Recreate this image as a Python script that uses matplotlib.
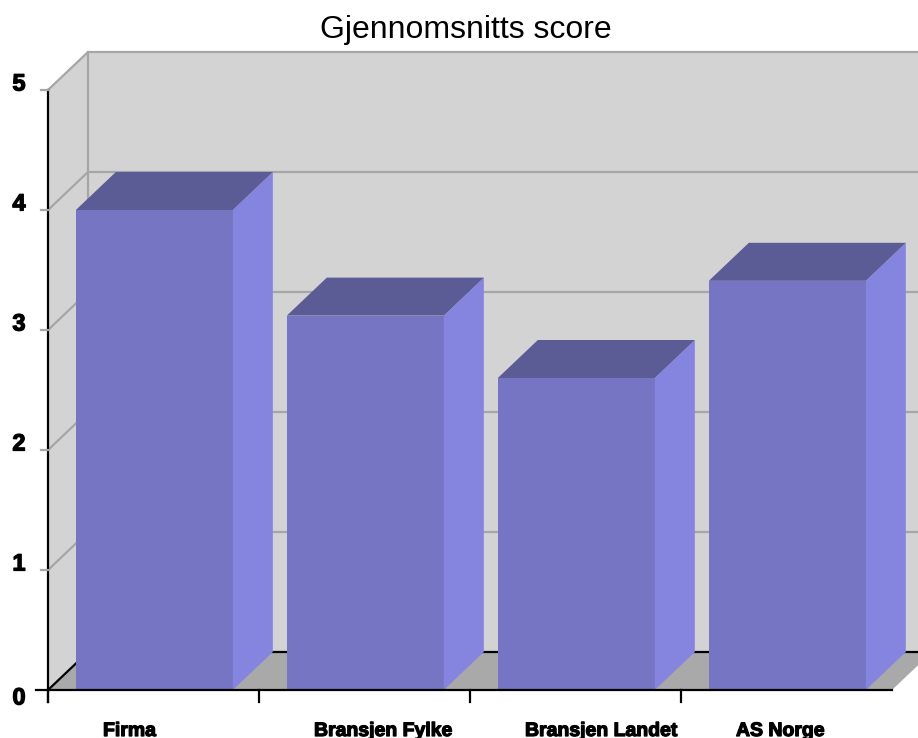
import matplotlib
matplotlib.use("Agg")
import matplotlib.pyplot as plt
from matplotlib.patches import Polygon
import matplotlib.patheffects as pe

categories = ["Firma", "Bransjen Fylke", "Bransjen Landet", "AS Norge"]
values = [4.0, 3.12, 2.6, 3.41]
yticks = [0, 1, 2, 3, 4, 5]
title = "Gjennomsnitts score"

plt.rcParams['font.family'] = ['Liberation Sans', 'DejaVu Sans']

W, H = 918, 738
fig = plt.figure(figsize=(W / 100, H / 100), dpi=100)
ax = fig.add_axes([48 / W, 48 / H, 844 / W, 600 / H])
ax.set_xlim(0, 4)
ax.set_ylim(0, 5)
ax.axis('off')

pxx = 211.0  # px per category
pxy = 120.0  # px per unit
dx = 40 / pxx
dy = 38 / pxy
n = len(categories)
ymax = yticks[-1]

wall = '#d3d3d3'
floor = '#a9a9a9'
grid = '#a6a6a6'
c_front = '#7575c4'
c_top = '#5b5b95'
c_side = '#8585e0'

def poly(pts, color, z):
    ax.add_patch(Polygon(pts, closed=True, facecolor=color, edgecolor='none',
                         zorder=z, clip_on=False))

# walls and floor
poly([(dx, dy), (n + dx + 0.2, dy), (n + dx + 0.2, ymax + dy), (dx, ymax + dy)], wall, 1)
poly([(0, 0), (dx, dy), (dx, ymax + dy), (0, ymax)], wall, 1)
poly([(0, 0), (n, 0), (n + dx, dy), (dx, dy)], floor, 1)

# grid lines
for v in yticks[1:]:
    ax.plot([0, dx, n + dx + 0.2], [v, v + dy, v + dy], color=grid, lw=1.6,
            zorder=2, clip_on=False, solid_capstyle='butt')
ax.plot([dx, dx], [dy, ymax + dy], color=grid, lw=1.6, zorder=2, clip_on=False)
# floor edges
ax.plot([0, dx, n + dx + 0.2], [0, dy, dy], color='black', lw=1.6, zorder=2,
        clip_on=False)

# bars
bstart = 0.132
bw = 0.744
for i, v in enumerate(values):
    xl = i + bstart
    xr = xl + bw
    poly([(xl, 0), (xr, 0), (xr, v), (xl, v)], c_front, 4)
    poly([(xr, 0), (xr + dx, dy), (xr + dx, v + dy), (xr, v)], c_side, 4)
    poly([(xl, v), (xr, v), (xr + dx, v + dy), (xl + dx, v + dy)], c_top, 4)

# axes lines
ax.plot([0, n], [0, 0], color='black', lw=1.6, zorder=5, clip_on=False)
ax.plot([0, 0], [-12 / pxy, ymax], color='black', lw=1.6, zorder=5, clip_on=False)
for i in range(n):
    ax.plot([i, i], [0, -12 / pxy], color='black', lw=1.6, zorder=5, clip_on=False)

stroke = [pe.withStroke(linewidth=0.9, foreground='black')]
for v in yticks:
    col = 'black' if v == 0 else grid
    x0 = -12 / pxx if v == 0 else -7 / pxx
    ax.plot([x0, 0], [v, v], color=col, lw=1.6, zorder=5, clip_on=False)
    off = -8 / pxy if v == 0 else 6 / pxy
    ax.text(-29 / pxx, v + off, str(v), ha='center', va='center', fontsize=17,
            fontweight='bold', color='black', zorder=6, path_effects=stroke)

for i, c in enumerate(categories):
    ax.text(i + 55 / pxx, -46 / pxy, c, ha='left', va='baseline', fontsize=14,
            fontweight='bold', color='black', zorder=6, path_effects=stroke)

fig.text(466 / W, 1 - 30 / H, title, ha='center', va='center', fontsize=23,
         color='black')

fig.savefig('out.png', dpi=100)
